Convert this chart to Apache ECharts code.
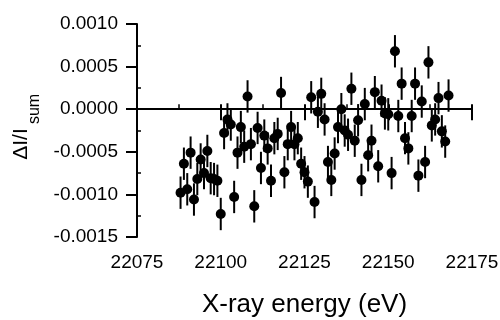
<!DOCTYPE html>
<html>
<head>
<meta charset="utf-8">
<script src="https://cdn.jsdelivr.net/npm/echarts@6/dist/echarts.min.js"></script>
<style>
  html, body { margin: 0; padding: 0; background: #fff; }
  #chart { width: 500px; height: 320px; }
</style>
</head>
<body>
<div id="chart"></div>
<script>
// photon energies (eV)
const energies = [
  22088, 22089, 22090, 22091, 22092, 22093, 22094, 22095, 22096, 22097,
  22098, 22099, 22100, 22101, 22102, 22103, 22104, 22105, 22106, 22107,
  22108, 22109, 22110, 22111, 22112, 22113, 22114, 22115, 22116, 22117,
  22118, 22119, 22120, 22121, 22122, 22123, 22124, 22125, 22126, 22127,
  22128, 22129, 22130, 22131, 22132, 22133, 22134, 22135, 22136, 22137,
  22138, 22139, 22140, 22141, 22142, 22143, 22144, 22145, 22146, 22147,
  22148, 22149, 22150, 22151, 22152, 22153, 22154, 22155, 22156, 22157,
  22158, 22159, 22160, 22161, 22162, 22163, 22164, 22165, 22166, 22167,
  22168
]

// dI / I_sum
const deltaI = [
  -0.00098, -0.00064, -0.00094, -0.00051, -0.00106, -0.00082, -0.00059, -0.00075, -0.00049, -0.00081,
  -0.00082, -0.00084, -0.00123, -0.00028, -0.00012, -0.00018, -0.00103, -0.00051, -0.00021, -0.00044,
  0.00015, -0.00041, -0.00114, -0.00022, -0.00069, -0.00031, -0.00046, -0.00084, -0.00034, -0.00029,
  0.00019, -0.00074, -0.00041, -0.00021, -0.00041, -0.00034, -0.00064, -0.00074, -0.00085, 0.00014,
  -0.00109, -0.00003, 0.00018, -0.00012, -0.00062, -0.00083, -0.00052, -0.00021, 0.00000, -0.00025,
  -0.00030, 0.00024, -0.00037, -0.00013, -0.00083, 0.00006, -0.00054, -0.00037, 0.00020, -0.00067,
  0.00010, -0.00005, -0.00006, -0.00075, 0.00068, -0.00008, 0.00030, -0.00034, -0.00046, -0.00008,
  0.00030, -0.00078, 0.00009, -0.00062, 0.00055, -0.00019, -0.00012, 0.00013, -0.00026, -0.00038,
  0.00016
]

// half length of the error bars
const errHalf = 0.00019

// axis ranges
const xMin = 22075
const xMax = 22175
const xStep = 25
const yMin = -0.0015
const yMax = 0.0010
const yStep = 0.0005

const font = 'Liberation Sans, Arial, sans-serif'

const points = energies.map((e, i) => [e, deltaI[i]])
const bars = energies.map((e, i) => [e, deltaI[i] - errHalf, deltaI[i] + errHalf])

const chart = echarts.init(document.getElementById('chart'))

const option = {
  animation: false,
  backgroundColor: '#fff',
  grid: { left: 137, right: 28, top: 24, bottom: 83, containLabel: false, outerBoundsMode: 'none' },
  xAxis: [
    {
      type: 'value',
      min: xMin,
      max: xMax,
      interval: xStep,
      position: 'bottom',
      axisLine: { show: true, lineStyle: { color: '#000', width: 2 } },
      axisTick: { show: true, inside: false, length: 11, lineStyle: { color: '#000', width: 2 } },
      axisLabel: { color: '#000', fontSize: 19, fontFamily: font, margin: 16, formatter: v => String(v) },
      splitLine: { show: false },
      name: 'X-ray energy (eV)',
      nameLocation: 'middle',
      nameGap: 55,
      nameTextStyle: { color: '#000', fontSize: 26, fontFamily: font }
    },
    {
      // inward ticks and minor ticks
      type: 'value',
      min: xMin,
      max: xMax,
      interval: xStep,
      position: 'bottom',
      axisLine: { show: false },
      axisTick: { show: true, inside: true, length: 5, lineStyle: { color: '#000', width: 2 } },
      minorTick: { show: true, splitNumber: 2, length: 5, lineStyle: { color: '#000', width: 1.5 } },
      axisLabel: { show: false },
      splitLine: { show: false }
    }
  ],
  yAxis: [
    {
      type: 'value',
      min: yMin,
      max: yMax,
      interval: yStep,
      position: 'left',
      axisLine: { show: true, lineStyle: { color: '#000', width: 2 } },
      axisTick: { show: true, inside: false, length: 11, lineStyle: { color: '#000', width: 2 } },
      axisLabel: {
        color: '#000',
        fontSize: 19,
        fontFamily: font,
        margin: 19,
        formatter: v => v.toFixed(4)
      },
      splitLine: { show: false }
    },
    {
      type: 'value',
      min: yMin,
      max: yMax,
      interval: yStep,
      position: 'left',
      axisLine: { show: false },
      axisTick: { show: false, inside: true, length: 4 },
      minorTick: { show: true, splitNumber: 2, length: 4, lineStyle: { color: '#000', width: 1.5 } },
      axisLabel: { show: false },
      splitLine: { show: false }
    }
  ],
  graphic: [
    {
      type: 'text',
      x: 21,
      y: 144,
      rotation: Math.PI / 2,
      style: { text: 'ΔI/I', fontSize: 21, fontFamily: font, fill: '#000', align: 'center', verticalAlign: 'middle' }
    },
    {
      type: 'text',
      x: 35,
      y: 109,
      rotation: Math.PI / 2,
      style: { text: 'sum', fontSize: 16, fontFamily: font, fill: '#000', align: 'center', verticalAlign: 'middle' }
    }
  ],
  series: [
    {
      // error bars
      type: 'custom',
      xAxisIndex: 0,
      yAxisIndex: 0,
      data: bars,
      silent: true,
      renderItem: (params, api) => {
        const lo = api.coord([api.value(0), api.value(1)])
        const hi = api.coord([api.value(0), api.value(2)])
        return {
          type: 'line',
          shape: { x1: lo[0], y1: lo[1], x2: hi[0], y2: hi[1] },
          style: { stroke: '#000', lineWidth: 2 }
        }
      },
      z: 2
    },
    {
      type: 'scatter',
      xAxisIndex: 0,
      yAxisIndex: 0,
      data: points,
      symbol: 'circle',
      symbolSize: 10,
      itemStyle: { color: '#000', opacity: 1 },
      silent: true,
      z: 3,
      markLine: {
        silent: true,
        symbol: ['none', 'none'],
        label: { show: false },
        lineStyle: { color: '#000', width: 2, type: 'solid' },
        data: [{ yAxis: 0 }]
      }
    }
  ]
}

chart.setOption(option)
</script>
</body>
</html>
